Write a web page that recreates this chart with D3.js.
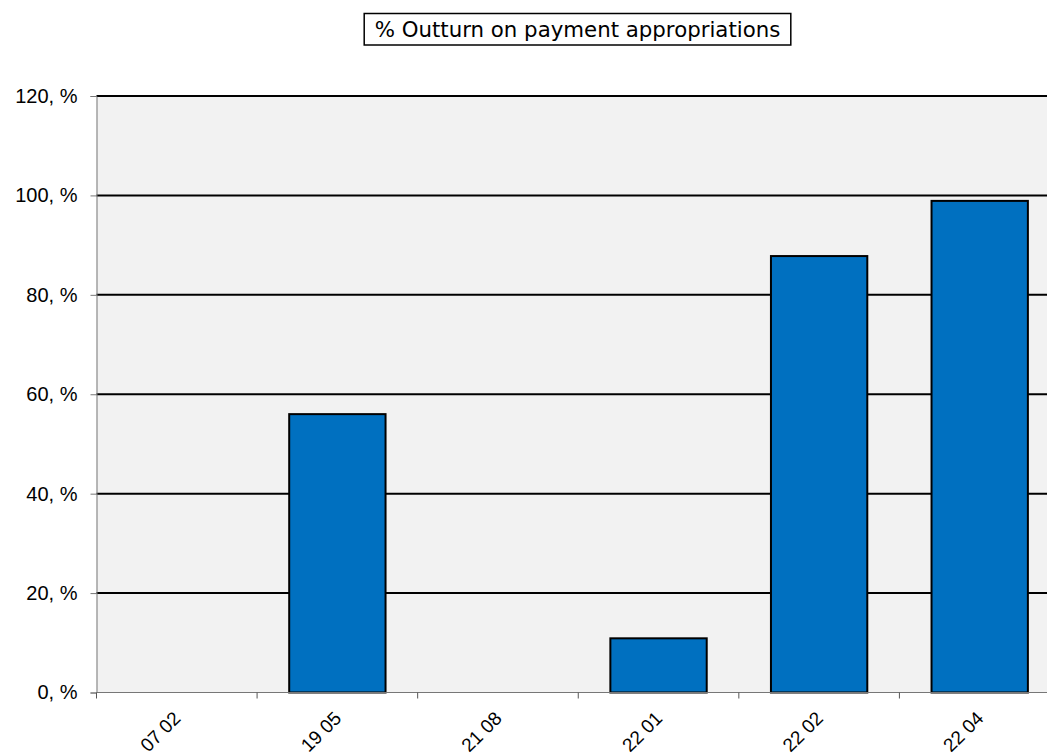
<!DOCTYPE html>
<html>
<head>
<meta charset="utf-8">
<script src="https://cdn.jsdelivr.net/npm/d3@7"></script>
<style>
  html, body { margin: 0; padding: 0; background: #fff; }
  svg { display: block; }
</style>
</head>
<body>
<svg id="chart" width="1047" height="756"></svg>
<script>
// Budget lines and the share of payment appropriations executed (%)
const categories = ["07 02", "19 05", "21 08", "22 01", "22 02", "22 04"];
const outturn = [0, 56.0, 0, 10.9, 87.8, 98.9];
const yTicks = [0, 20, 40, 60, 80, 100, 120];
const titleText = "% Outturn on payment appropriations";

const svg = d3.select("#chart");
const margin = { left: 96.5, top: 96, right: -13, bottom: 63.5 };
const W = 1047, H = 756;
const x0 = margin.left, x1 = W - margin.right;
const y0 = H - margin.bottom, y1 = margin.top;

const x = d3.scaleBand().domain(categories).range([x0, x1]).paddingInner(0.4).paddingOuter(0.2);
const y = d3.scaleLinear().domain([0, 120]).range([y0, y1]);

// plot background
svg.append("rect")
  .attr("x", x0).attr("y", y1)
  .attr("width", x1 - x0).attr("height", y0 - y1)
  .attr("fill", "#f2f2f2");

// horizontal gridlines
svg.append("g")
  .selectAll("line")
  .data(yTicks.filter(t => t > 0))
  .join("line")
  .attr("x1", x0).attr("x2", x1)
  .attr("y1", d => y(d)).attr("y2", d => y(d))
  .attr("stroke", "#000").attr("stroke-width", 2);

// bars
svg.append("g")
  .selectAll("rect")
  .data(categories.map((c, i) => ({ c, v: outturn[i] })).filter(d => d.v > 0))
  .join("rect")
  .attr("x", d => x(d.c))
  .attr("y", d => y(d.v))
  .attr("width", x.bandwidth())
  .attr("height", d => y(0) - y(d.v))
  .attr("fill", "#0070c0")
  .attr("stroke", "#000")
  .attr("stroke-width", 2);

// y axis
const yAxis = svg.append("g")
  .attr("transform", `translate(${x0},0)`)
  .call(d3.axisLeft(y).tickValues(yTicks).tickSize(6).tickPadding(13).tickFormat(d => d + ", %"));
yAxis.select(".domain").attr("stroke", "#777").attr("stroke-width", 1);
yAxis.selectAll(".tick line").attr("stroke", "#777");
yAxis.selectAll("text")
  .attr("font-family", "'Liberation Sans', Arial, sans-serif")
  .attr("font-size", 20).attr("fill", "#000");

// x axis with boundary ticks between categories
const xAxisG = svg.append("g").attr("transform", `translate(0,${y0})`);
xAxisG.append("line")
  .attr("x1", x0).attr("x2", x1)
  .attr("stroke", "#777").attr("stroke-width", 1);
const bounds = d3.range(categories.length + 1).map(i => x0 + i * (x1 - x0) / categories.length);
xAxisG.selectAll(".btick")
  .data(bounds)
  .join("line")
  .attr("class", "btick")
  .attr("x1", d => d).attr("x2", d => d)
  .attr("y1", 0).attr("y2", 6)
  .attr("stroke", "#555");
xAxisG.selectAll(".xlab")
  .data(categories)
  .join("text")
  .attr("class", "xlab")
  .attr("transform", d => `translate(${x(d) + x.bandwidth() / 2 + 5},27) rotate(-45)`)
  .attr("text-anchor", "end")
  .attr("font-family", "'Liberation Sans', Arial, sans-serif")
  .attr("font-size", 19)
  .attr("fill", "#000")
  .text(d => d);

// title in a box
const titleG = svg.append("g");
const titleBox = titleG.append("rect");
const title = titleG.append("text")
  .attr("x", 577.5).attr("y", 36.7)
  .attr("text-anchor", "middle")
  .attr("font-family", "'DejaVu Sans', Verdana, sans-serif")
  .attr("font-size", 21.3)
  .attr("fill", "#000")
  .text(titleText);
const bb = title.node().getBBox();
titleBox
  .attr("x", bb.x - 10.5).attr("y", 13.5)
  .attr("width", bb.width + 21).attr("height", 31.5)
  .attr("fill", "#fff").attr("stroke", "#000").attr("stroke-width", 1.5);
</script>
</body>
</html>
